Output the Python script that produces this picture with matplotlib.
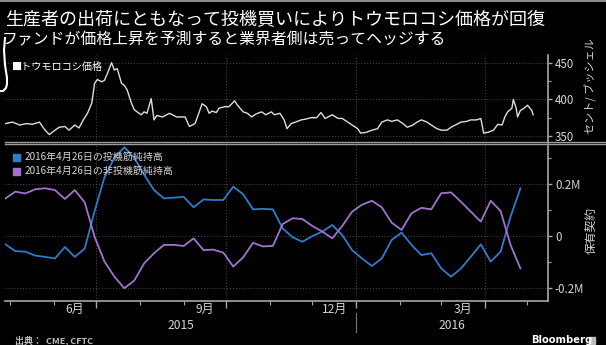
import matplotlib
matplotlib.use('Agg')
import matplotlib.pyplot as plt
import matplotlib.dates as mdates
from matplotlib.lines import Line2D
from matplotlib.patches import Rectangle
from matplotlib.ticker import FixedLocator, FuncFormatter
import pandas as pd

plt.rcParams['font.family'] = ['Noto Sans CJK JP', 'DejaVu Sans']

# Corn futures price (cents / bushel)
price_dates = [
    '2015-04-28', '2015-05-03', '2015-05-08', '2015-05-13', '2015-05-17', '2015-05-22',
    '2015-05-26', '2015-05-29', '2015-06-02', '2015-06-05', '2015-06-09', '2015-06-12',
    '2015-06-16', '2015-06-19', '2015-06-22', '2015-06-25', '2015-06-28', '2015-06-30',
    '2015-07-02', '2015-07-05', '2015-07-07', '2015-07-09', '2015-07-12', '2015-07-14',
    '2015-07-16', '2015-07-19', '2015-07-21', '2015-07-23', '2015-07-26', '2015-07-28',
    '2015-07-30', '2015-08-02', '2015-08-04', '2015-08-06', '2015-08-09', '2015-08-11',
    '2015-08-13', '2015-08-17', '2015-08-22', '2015-08-27', '2015-08-31', '2015-09-02',
    '2015-09-05', '2015-09-09', '2015-09-12', '2015-09-14', '2015-09-17', '2015-09-19',
    '2015-09-21', '2015-09-24', '2015-09-26', '2015-09-30', '2015-10-03', '2015-10-07',
    '2015-10-09', '2015-10-13', '2015-10-16', '2015-10-19', '2015-10-22', '2015-10-26',
    '2015-10-29', '2015-11-02', '2015-11-04', '2015-11-08', '2015-11-11', '2015-11-13',
    '2015-11-16', '2015-11-19', '2015-11-23', '2015-11-26', '2015-11-30', '2015-12-04',
    '2015-12-07', '2015-12-10', '2015-12-12', '2015-12-15', '2015-12-19', '2015-12-22',
    '2015-12-26', '2015-12-29', '2016-01-02', '2016-01-04', '2016-01-08', '2016-01-12',
    '2016-01-16', '2016-01-19', '2016-01-23', '2016-01-26', '2016-01-30', '2016-02-03',
    '2016-02-06', '2016-02-10', '2016-02-13', '2016-02-16', '2016-02-20', '2016-02-23',
    '2016-02-27', '2016-03-01', '2016-03-05', '2016-03-08', '2016-03-12', '2016-03-15',
    '2016-03-19', '2016-03-22', '2016-03-26', '2016-03-29', '2016-03-31', '2016-04-03',
    '2016-04-07', '2016-04-10', '2016-04-13', '2016-04-15', '2016-04-17', '2016-04-20',
    '2016-04-21', '2016-04-23', '2016-04-24', '2016-04-26', '2016-04-28', '2016-05-01',
    '2016-05-04', '2016-05-05',
]
price_cents = [
    367, 369, 365, 367, 366, 369,
    358, 352, 358, 362, 363, 358,
    365, 361, 372, 381, 395, 422,
    427, 424, 426, 435, 450, 440,
    442, 422, 419, 413, 395, 386,
    383, 379, 383, 381, 401, 372,
    378, 376, 381, 376, 376, 376,
    363, 367, 383, 394, 390, 381,
    384, 382, 388, 390, 390, 398,
    392, 383, 381, 376, 380, 383,
    379, 383, 379, 381, 372, 360,
    367, 369, 372, 373, 375, 375,
    382, 374, 376, 379, 374, 374,
    369, 365, 360, 354, 355, 358,
    360, 369, 372, 370, 372, 367,
    362, 365, 369, 372, 369, 365,
    360, 358, 358, 362, 366, 369,
    370, 372, 372, 374, 354, 355,
    358, 366, 365, 376, 383, 388,
    400, 388, 376, 385, 387, 392,
    385, 379,
]

# Weekly net positions (contracts), CFTC reports from 2015-04-28 to 2016-04-26
pos_dates = pd.date_range('2015-04-28', '2016-04-26', freq='7D')
spec_net = [
    -32000, -58000, -60000, -75000, -80000, -86000, -42000, -80000, -48000, 95000,
    225000, 300000, 340000, 300000, 235000, 176000, 144000, 147000, 150000, 110000,
    140000, 138000, 138000, 189000, 160000, 102000, 104000, 102000, 29000, -5000,
    -22000, 0, 17000, 42000, 4000, -54000, -86000, -115000, -86000, -15000,
    13000, -34000, -73000, -66000, -124000, -156000, -124000, -79000, -32000, -98000,
    -60000, 74000, 183000,
]
comm_net = [
    144000, 170000, 163000, 179000, 183000, 176000, 142000, 176000, 129000, -3000,
    -98000, -156000, -200000, -171000, -105000, -66000, -34000, -34000, -38000, -9000,
    -54000, -52000, -64000, -117000, -82000, -26000, -40000, -38000, 46000, 68000,
    65000, 38000, 17000, -9000, 38000, 93000, 120000, 135000, 110000, 51000,
    23000, 87000, 108000, 102000, 164000, 167000, 131000, 93000, 55000, 135000,
    96000, -34000, -124000,
]

title_1 = '生産者の出荷にともなって投機買いによりトウモロコシ価格が回復'
title_2 = 'ファンドが価格上昇を予測すると業界者側は売ってヘッジする'
price_label = '■トウモロコシ価格'
spec_label = '2016年4月26日の投機筋純持高'
comm_label = '2016年4月26日の非投機筋純持高'
month_labels = ['6月', '9月', '12月', '3月']
month_label_starts = ['2015-06-01', '2015-09-01', '2015-12-01', '2016-03-01']
price_ticks = [350, 400, 450]
pos_ticks = [-200000, 0, 200000]

BLUE = '#2f7ccc'
PURPLE = '#a273cc'
PRICE = '#dedede'
GRID = '#4c4c4c'
AXIS = '#a8a8a8'
TEXT = '#d4d4d4'

W, H = 606, 345
fig = plt.figure(figsize=(W / 100, H / 100), dpi=100, facecolor='black')


def fx(px):
    return px / W


def fy(py):
    return 1 - py / H


x_left = pd.Timestamp('2015-04-27 16:00')
x_right = pd.Timestamp('2016-05-15 12:00')
quarters = pd.to_datetime(['2015-07-01', '2015-10-01', '2016-01-01', '2016-04-01'])
months = pd.date_range('2015-05-01', '2016-05-01', freq='MS')

ax1 = fig.add_axes([fx(5), fy(143), fx(548) - fx(5), fy(55) - fy(143)])
ax2 = fig.add_axes([fx(5), fy(301), fx(548) - fx(5), fy(145) - fy(301)])

for ax in (ax1, ax2):
    ax.set_facecolor('black')
    ax.set_xlim(x_left, x_right)
    for s in ('left', 'top'):
        ax.spines[s].set_visible(False)
    ax.spines['right'].set_color(AXIS)
    ax.spines['right'].set_linewidth(1.2)
    ax.yaxis.tick_right()
    ax.tick_params(axis='y', which='major', colors=AXIS, labelcolor=TEXT,
                   labelsize=8.3, length=3, width=1, pad=2)
    ax.tick_params(axis='y', which='minor', colors=AXIS, length=2, width=0.8)
    ax.grid(axis='y', color=GRID, linestyle=(0, (1, 2)), linewidth=0.7)
    for q in quarters:
        ax.axvline(q, color=GRID, linestyle=(0, (1, 2)), linewidth=0.7, zorder=0)

# top panel: price
ax1.plot(pd.to_datetime(price_dates), price_cents, color=PRICE, lw=1.0)
ax1.set_ylim(340.5, 460.5)
ax1.yaxis.set_major_locator(FixedLocator(price_ticks))
ax1.yaxis.set_minor_locator(FixedLocator([375, 425]))
ax1.spines['bottom'].set_visible(False)
ax1.set_xticks([])

# bottom panel: positions
ax2.plot(pos_dates, spec_net, color=BLUE, lw=1.3)
ax2.plot(pos_dates, comm_net, color=PURPLE, lw=1.3)
ax2.set_ylim(-249000, 348700)
ax2.yaxis.set_major_locator(FixedLocator(pos_ticks))
ax2.yaxis.set_minor_locator(FixedLocator([-100000, 100000, 300000]))
ax2.yaxis.set_major_formatter(FuncFormatter(lambda v, p: '0' if v == 0 else f'{v / 1e6:g}M'))
ax2.spines['bottom'].set_color(AXIS)
ax2.spines['bottom'].set_linewidth(1.2)
ax2.xaxis.set_major_locator(FixedLocator(mdates.date2num(quarters)))
ax2.xaxis.set_minor_locator(FixedLocator(mdates.date2num(months)))
ax2.tick_params(axis='x', which='major', colors=AXIS, length=5, width=1, labelbottom=False)
ax2.tick_params(axis='x', which='minor', colors=AXIS, length=3, width=0.8)

# month and year labels under the axis
xtrans = ax2.get_xaxis_transform()
for lab, start in zip(month_labels, month_label_starts):
    s = pd.Timestamp(start)
    mid = s + (s + pd.offsets.MonthBegin(1) - s) / 2
    ax2.text(mid, -0.052, lab, transform=xtrans, ha='center', va='center',
             fontsize=8.7, color=TEXT)
year_split = pd.Timestamp('2016-01-01')
ax2.text(x_left + (year_split - x_left) / 2, -0.16, '2015', transform=xtrans,
         ha='center', va='center', fontsize=8.7, color=TEXT)
ax2.text(year_split + (x_right - year_split) / 2, -0.16, '2016', transform=xtrans,
         ha='center', va='center', fontsize=8.7, color=TEXT)
ax2.plot([year_split, year_split], [-0.075, -0.2], transform=xtrans, color='#777777',
         lw=0.8, clip_on=False)

# separator between panels
for yy in (141.7, 144.3):
    fig.add_artist(Line2D([fx(5), 1], [fy(yy), fy(yy)], color='#9c9c9c', lw=1.0,
                          transform=fig.transFigure))

# titles and labels
fig.text(fx(5), fy(19), title_1, fontsize=13.0, color='white', va='center', ha='left')
fig.text(fx(2), fy(40), title_2, fontsize=11.4, color='white', va='center', ha='left')
fig.text(fx(12), fy(67), price_label, fontsize=7.3, color='white', va='center', ha='left')

for yy, col, lab in ((157, BLUE, spec_label), (171, PURPLE, comm_label)):
    fig.add_artist(Rectangle((fx(13), fy(yy + 3.5)), fx(6.5), 6.5 / H, color=col,
                             transform=fig.transFigure))
    fig.text(fx(25), fy(yy), lab, fontsize=7.2, color=TEXT, va='center', ha='left')

fig.text(fx(591), fy(86), 'セント/ ブッシェル', rotation=90, fontsize=8, color=TEXT,
         va='center', ha='center')
fig.text(fx(591), fy(230), '保有契約', rotation=90, fontsize=8.5, color=TEXT,
         va='center', ha='center')

fig.text(fx(15), fy(340), '出典：  CME, CFTC', fontsize=6.5, color='#bdbdbd',
         va='center', ha='left', weight='bold')
fig.text(fx(531), fy(340), 'Bloomberg', fontsize=7.2, color='white', va='center',
         ha='left', weight='bold', family='DejaVu Sans')
fig.add_artist(Rectangle((fx(589), fy(344)), fx(6), 7 / H, color='#bdbdbd',
                         transform=fig.transFigure))

# screen-capture edge marks
fig.add_artist(Line2D([0, 1], [fy(0.8), fy(0.8)], color='#8a8a8a', lw=1.5,
                      transform=fig.transFigure))
bx = [5, 4, 5, 7, 7, 6, 3, 0]
by = [38, 50, 65, 78, 84, 88, 91, 91]
fig.add_artist(Line2D([fx(v) for v in bx], [fy(v) for v in by], color='white', lw=1.5,
                      transform=fig.transFigure))

fig.savefig('out.png', dpi=100, facecolor='black')
